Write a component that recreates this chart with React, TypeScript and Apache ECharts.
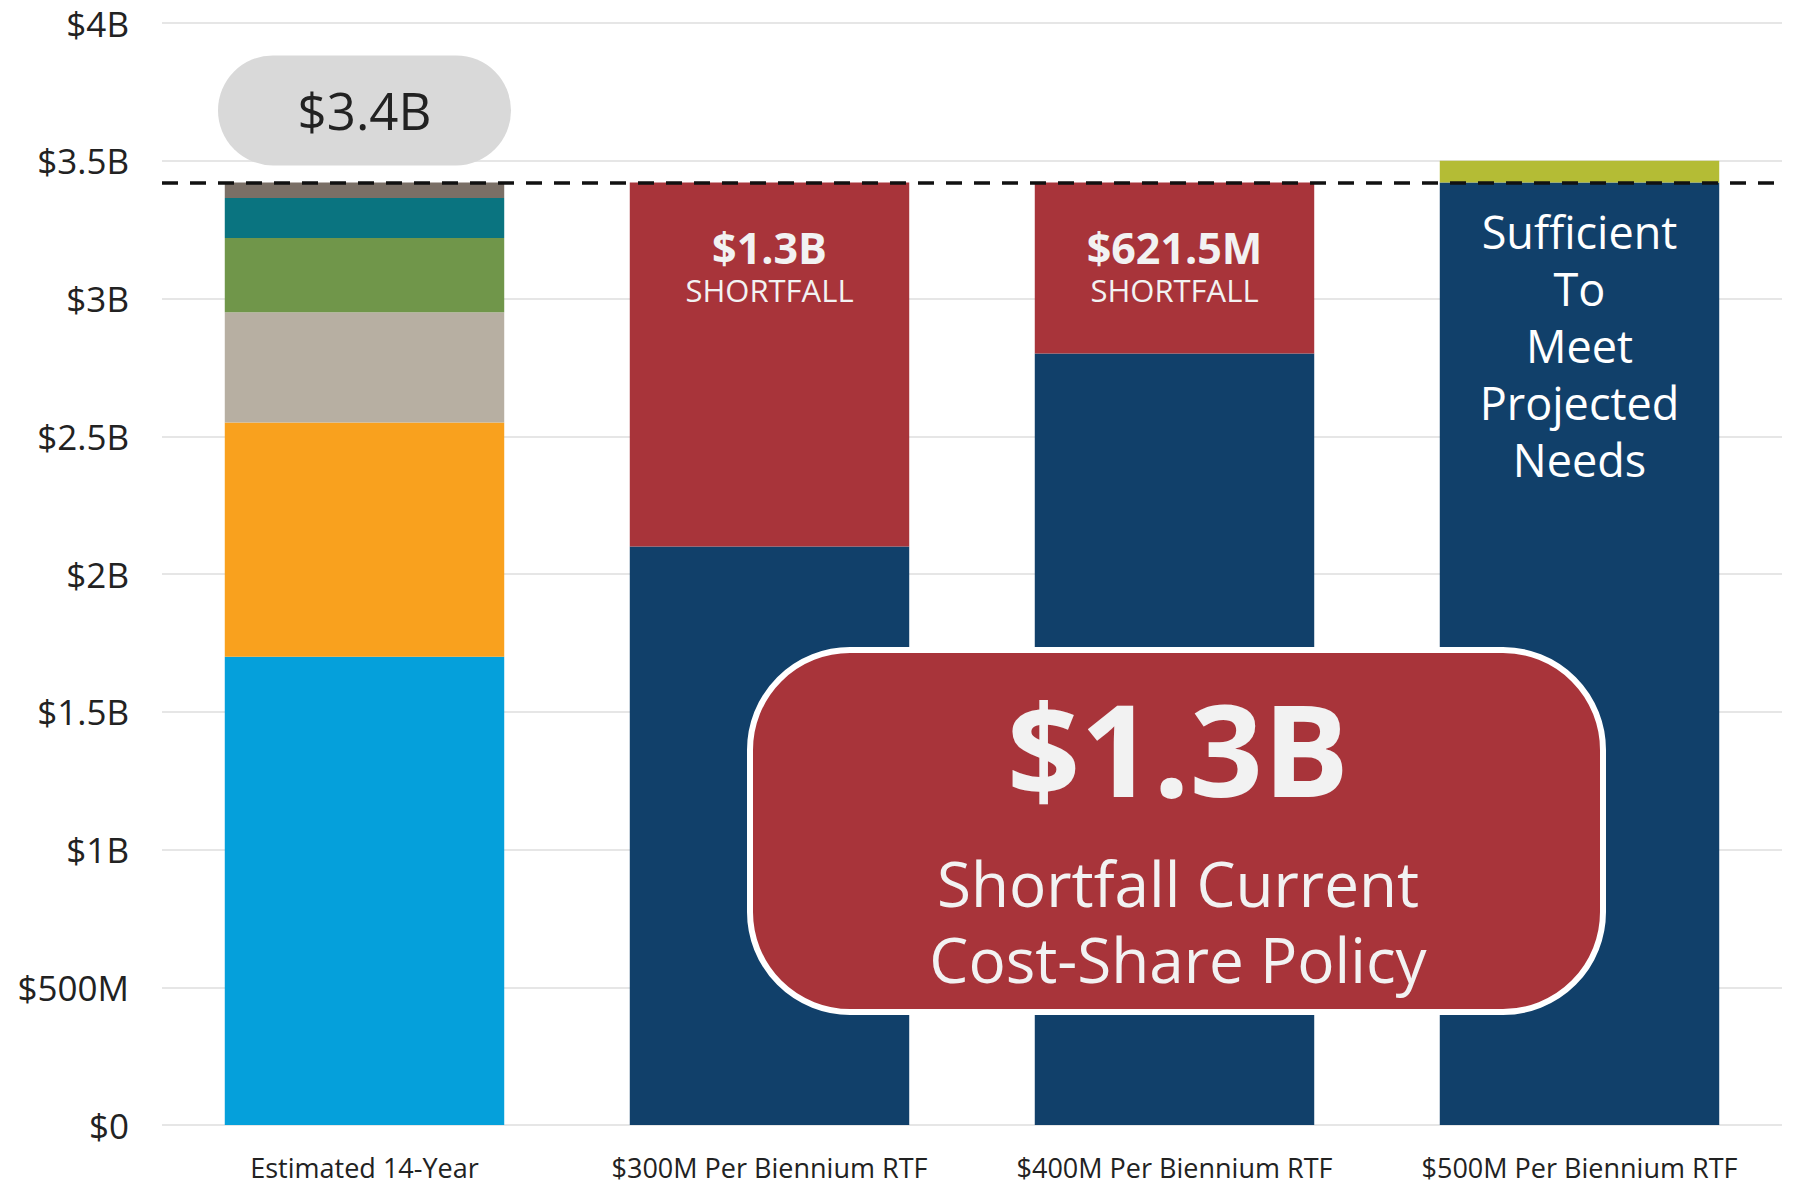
import React, { useEffect, useRef } from "react";
import * as echarts from "echarts";

const categories = [
  "Estimated 14-Year",
  "$300M Per Biennium RTF",
  "$400M Per Biennium RTF",
  "$500M Per Biennium RTF",
];

// Estimated 14-year need components (billions)
const needBlue = [1.7, "-", "-", "-"];
const needOrange = [0.85, "-", "-", "-"];
const needTan = [0.4, "-", "-", "-"];
const needGreen = [0.27, "-", "-", "-"];
const needTeal = [0.145, "-", "-", "-"];
const needGray = [0.0565, "-", "-", "-"];

// Funding scenarios (billions)
const funded = ["-", 2.1, 2.8, 3.4215];
const shortfall = ["-", 1.3215, 0.6215, "-"];
const surplus = ["-", "-", "-", 0.0785];

const totalNeed = 3.4215;
const yTickLabels = ["$0", "$500M", "$1B", "$1.5B", "$2B", "$2.5B", "$3B", "$3.5B", "$4B"];
const shortfallLabels = ["", "$1.3B", "$621.5M", ""];

const FONT = "'Open Sans', 'Noto Sans', sans-serif";

export default function App() {
  const ref = useRef<HTMLDivElement>(null);
  useEffect(() => {
    document.body.style.margin = "0";
    if (!ref.current) return;
    const chart = echarts.init(ref.current, undefined, { renderer: "svg" });

    const seg = (name: string, data: any[], color: string, extra: any = {}) => ({
      name,
      type: "bar",
      stack: "total",
      data,
      barCategoryGap: "31%",
      itemStyle: { color },
      emphasis: { disabled: true },
      ...extra,
    });

    const option: any = {
      animation: false,
      textStyle: { fontFamily: FONT },
      grid: { left: 162, right: 13, top: 23, bottom: 59, containLabel: false },
      xAxis: {
        type: "category",
        data: categories,
        axisLine: { show: false },
        axisTick: { show: false },
        axisLabel: { interval: 0, fontSize: 27, lineHeight: 30, color: "#222", margin: 27, fontFamily: FONT },
      },
      yAxis: {
        type: "value",
        min: 0,
        max: 4,
        interval: 0.5,
        axisLine: { show: false },
        axisTick: { show: false },
        splitLine: { lineStyle: { color: "#e6e6e6", width: 2 } },
        axisLabel: {
          fontSize: 35,
          color: "#222",
          margin: 33,
          fontFamily: FONT,
          formatter: (v: number) => yTickLabels[Math.round(v / 0.5)],
        },
      },
      series: [
        seg("Blue", needBlue, "#05a0db"),
        seg("Orange", needOrange, "#f9a11e"),
        seg("Tan", needTan, "#b7afa2"),
        seg("Green", needGreen, "#70964a"),
        seg("Teal", needTeal, "#0a7480"),
        seg("Gray", needGray.map((v, i) =>
          i === 0
            ? {
                value: v,
                label: {
                  show: true,
                  position: "top",
                  distance: 17,
                  formatter: "{p|$3.4B}",
                  rich: {
                    p: {
                      width: 293,
                      height: 110,
                      lineHeight: 110,
                      align: "center",
                      backgroundColor: "#d9d9d9",
                      borderRadius: 55,
                      fontSize: 51,
                      color: "#222",
                      fontFamily: FONT,
                    },
                  },
                },
              }
            : v
        ), "#7a6f66"),
        seg("Funded", funded.map((v, i) =>
          i === 3
            ? {
                value: v,
                label: {
                  show: true,
                  position: "insideTop",
                  distance: 21,
                  formatter: "Sufficient\nTo\nMeet\nProjected\nNeeds",
                  fontSize: 45,
                  lineHeight: 57,
                  color: "#fff",
                  align: "center",
                  fontFamily: FONT,
                },
              }
            : v
        ), "#11406a", {
          markLine: {
            silent: true,
            symbol: "none",
            label: { show: false },
            lineStyle: { type: [16, 12], width: 3.5, color: "#111" },
            data: [{ yAxis: totalNeed }],
          },
        }),
        seg("Shortfall", shortfall.map((v, i) =>
          v === "-"
            ? v
            : {
                value: v,
                label: {
                  show: true,
                  position: "insideTop",
                  distance: 42,
                  formatter: `{a|${shortfallLabels[i]}}\n{b|SHORTFALL}`,
                  rich: {
                    a: { fontSize: 43, fontWeight: "bold", color: "#f2f2f2", lineHeight: 47, align: "center", fontFamily: FONT },
                    b: { fontSize: 31, color: "#f2f2f2", lineHeight: 38, align: "center", fontFamily: FONT },
                  },
                },
              }
        ), "#a8343a"),
        seg("Surplus", surplus, "#b4bc35"),
      ],
      graphic: [
        {
          type: "rect",
          z: 100,
          shape: { x: 750, y: 650, width: 853, height: 362, r: 100 },
          style: { fill: "#a8343a", stroke: "#ffffff", lineWidth: 6 },
        },
        {
          type: "text",
          z: 101,
          x: 1178,
          y: 747,
          style: {
            text: "$1.3B",
            fontSize: 128,
            fontWeight: "bold",
            fontFamily: FONT,
            fill: "#f2f2f2",
            align: "center",
            verticalAlign: "middle",
          },
        },
        {
          type: "text",
          z: 101,
          x: 1178,
          y: 883,
          style: {
            text: "Shortfall Current",
            fontSize: 62,
            fontFamily: FONT,
            fill: "#f2f2f2",
            align: "center",
            verticalAlign: "middle",
          },
        },
        {
          type: "text",
          z: 101,
          x: 1178,
          y: 959,
          style: {
            text: "Cost-Share Policy",
            fontSize: 62,
            fontFamily: FONT,
            fill: "#f2f2f2",
            align: "center",
            verticalAlign: "middle",
          },
        },
      ],
    };
    chart.setOption(option);
    return () => chart.dispose();
  }, []);
  return <div ref={ref} style={{ width: 1795, height: 1184 }} />;
}
